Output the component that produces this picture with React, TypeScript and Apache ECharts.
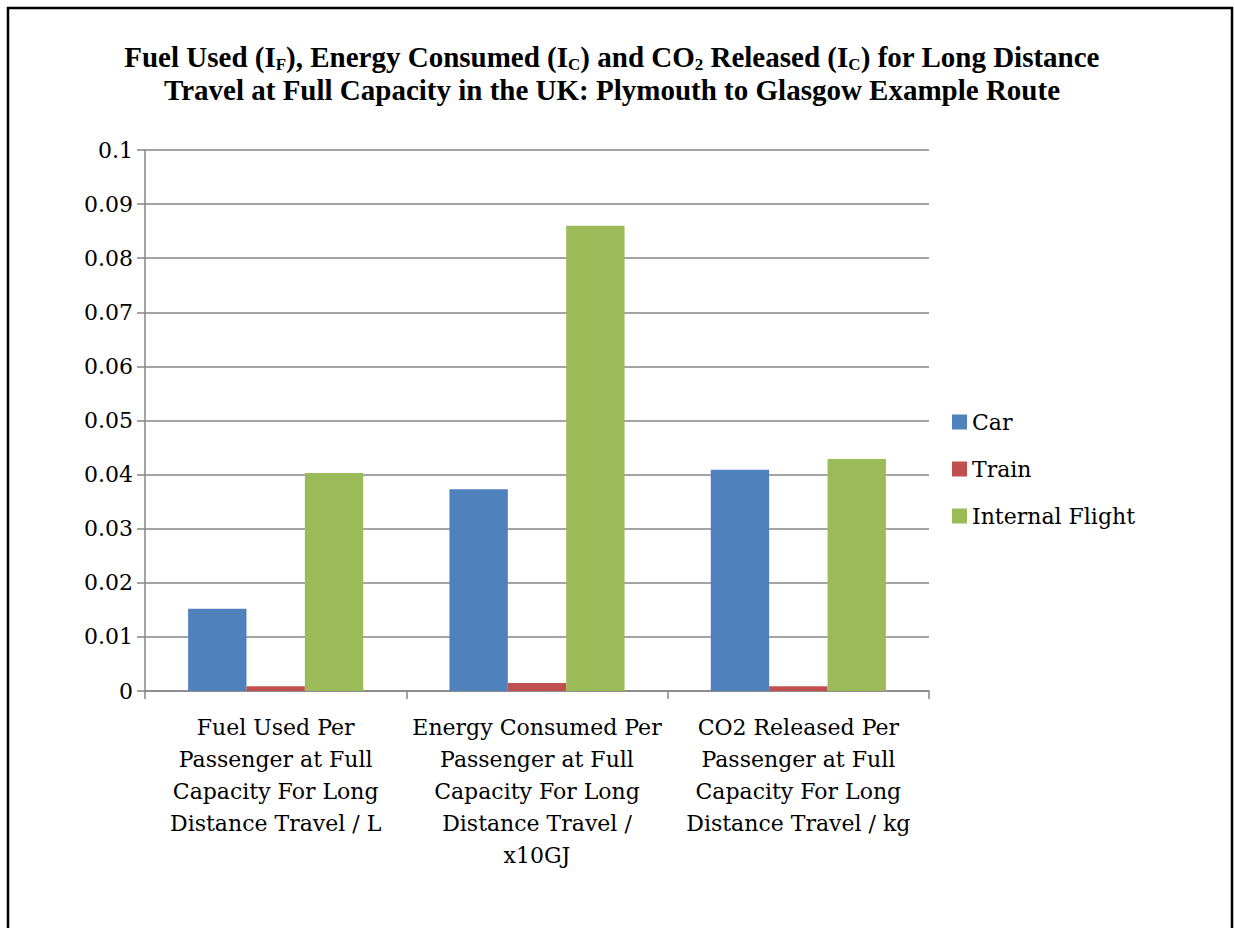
import React, { useEffect, useRef } from "react";
import * as echarts from "echarts";

const categories = [
  "Fuel Used Per\nPassenger at Full\nCapacity For Long\nDistance Travel / L",
  "Energy Consumed Per\nPassenger at Full\nCapacity For Long\nDistance Travel /\nx10GJ",
  "CO2 Released Per\nPassenger at Full\nCapacity For Long\nDistance Travel / kg",
];
const carValues = [0.0152, 0.0373, 0.0409];
const trainValues = [0.0009, 0.0015, 0.00087];
const flightValues = [0.0403, 0.086, 0.0429];
const seriesNames = ["Car", "Train", "Internal Flight"];
const colors = ["#4F81BD", "#C0504D", "#9BBB59"];

const FONT = "DejaVu Serif";
const TFONT = "Liberation Serif";

export default function App() {
  const ref = useRef<HTMLDivElement>(null);
  useEffect(() => {
    const chart = echarts.init(ref.current!, null, { renderer: "svg" });
    const data = [carValues, trainValues, flightValues];
    chart.setOption({
      animation: false,
      backgroundColor: "#ffffff",
      title: {
        top: 35,
        text:
          "Fuel Used (I{sub|F}), Energy Consumed (I{sub|C}) and CO{sub|2} Released (I{sub|C}) for Long Distance\nTravel at Full Capacity in the UK: Plymouth to Glasgow Example Route",
        textAlign: "center",
        left: 607,
        textStyle: {
          fontFamily: TFONT,
          fontWeight: "bold",
          fontSize: 29,
          lineHeight: 33,
          color: "#000",
          rich: {
            sub: {
              fontFamily: TFONT,
              fontWeight: "bold",
              fontSize: 17,
              lineHeight: 33,
              verticalAlign: "bottom",
              padding: [15, 0, 0, 0],
              color: "#000",
            },
          },
        },
      },
      graphic: [
        {
          type: "rect",
          shape: { x: 8, y: 8, width: 1224, height: 960 },
          style: { fill: "none", stroke: "#000", lineWidth: 2.5 },
          silent: true,
        },
      ],
      legend: {
        orient: "vertical",
        left: 947,
        top: 406,
        itemWidth: 15,
        itemHeight: 15,
        itemGap: 25,
        icon: "rect",
        textStyle: { fontFamily: FONT, fontSize: 22, color: "#000" },
        data: seriesNames,
      },
      grid: { left: 145, right: 305, top: 150, bottom: 237 },
      xAxis: {
        type: "category",
        data: categories,
        axisLine: { lineStyle: { color: "#868686", width: 1.5 } },
        axisTick: { show: true, length: 8, lineStyle: { color: "#868686", width: 1.5 } },
        axisLabel: {
          interval: 0,
          margin: 20,
          fontFamily: FONT,
          fontSize: 22,
          lineHeight: 32,
          color: "#000",
          align: "center",
        },
      },
      yAxis: {
        type: "value",
        min: 0,
        max: 0.1,
        interval: 0.01,
        axisLine: { show: true, lineStyle: { color: "#868686", width: 1.5 } },
        axisTick: { show: true, length: 8, lineStyle: { color: "#868686", width: 1.5 } },
        splitLine: { lineStyle: { color: "#868686", width: 1.5 } },
        axisLabel: {
          margin: 12,
          fontFamily: FONT,
          fontSize: 22,
          color: "#000",
          formatter: (v: number) => String(parseFloat(v.toFixed(3))),
        },
      },
      series: seriesNames.map((name, i) => ({
        name,
        type: "bar",
        data: data[i],
        barGap: "0%",
        barCategoryGap: "33%",
        itemStyle: { color: colors[i] },
      })),
    });
    return () => chart.dispose();
  }, []);
  return (
    <div
      ref={ref}
      style={{ position: "fixed", left: 0, top: 0, width: 1234, height: 928 }}
    />
  );
}
